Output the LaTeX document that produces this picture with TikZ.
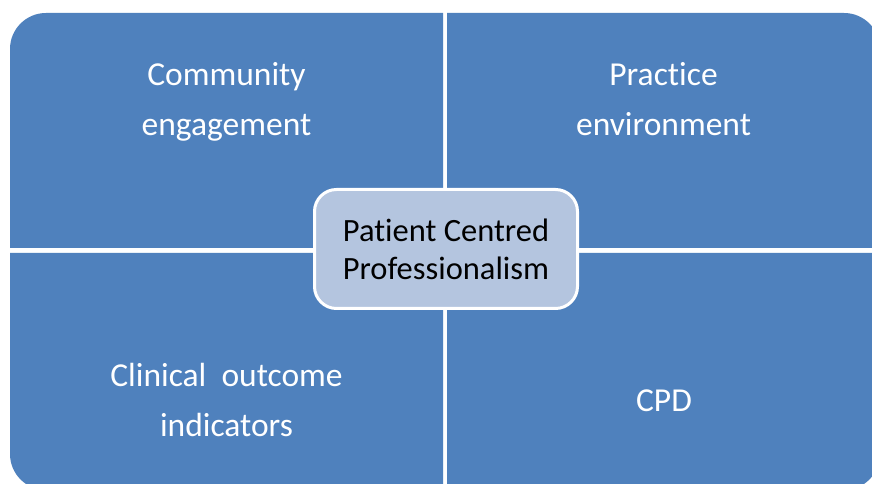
\documentclass[tikz,border=0pt]{standalone}
\usepackage{fontspec}
\setmainfont{Carlito}[Ligatures=NoCommon]
\definecolor{quadblue}{HTML}{4F81BD}
\definecolor{corefill}{HTML}{B4C5DF}
\begin{document}
\begin{tikzpicture}[x=1pt,y=1pt,
  quad/.style={fill=quadblue},
  quadtext/.style={text=white,align=center,anchor=base,
    font=\fontsize{33.5}{50}\selectfont},
  core/.style={draw=white,line width=3pt,fill=corefill,rounded corners=22pt,
    minimum width=263pt,minimum height=119pt,align=center,text=black,
    font=\fontsize{32.5}{38}\selectfont}]
\useasboundingbox (0,0) rectangle (872,484);
\fill[white] (0,0) rectangle (872,484);
\begin{scope}
\clip (0,0) rectangle (872,484);
% four quadrants, each with its outer corner rounded
\fill[quad] (10,236) -- (10,435) arc[start angle=180,end angle=90,radius=36]
  -- (443,471) -- (443,236) -- cycle;
\fill[quad] (447,236) -- (447,471) -- (844,471)
  arc[start angle=90,end angle=0,radius=36] -- (880,236) -- cycle;
\fill[quad] (10,231) -- (10,30) arc[start angle=180,end angle=270,radius=36]
  -- (443,-6) -- (443,231) -- cycle;
\fill[quad] (447,231) -- (880,231) -- (880,30)
  arc[start angle=0,end angle=-90,radius=36] -- (447,-6) -- cycle;
\end{scope}
% quadrant labels (base anchor sits on the last line)
\node[quadtext] (community) at (226.5,348) {Community\\engagement};
\node[quadtext] (practice) at (663.5,348.5) {Practice\\environment};
\node[quadtext] (clinical) at (226.5,47) {Clinical~~outcome\\indicators};
\node[quadtext] (cpd) at (664,72) {CPD};
% central box
\node[core] (pcp) at (446,235) {Patient Centred\\Professionalism};
\end{tikzpicture}
\end{document}
